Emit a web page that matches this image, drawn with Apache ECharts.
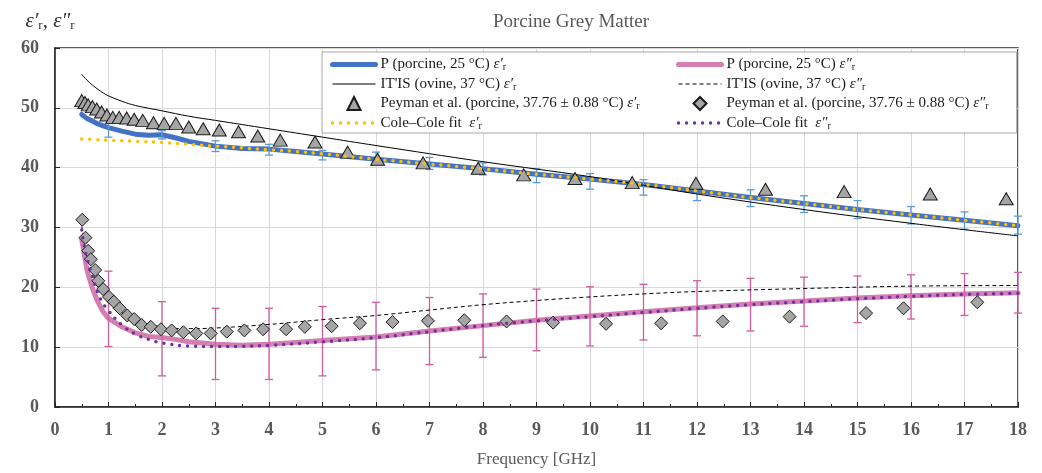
<!DOCTYPE html>
<html>
<head>
    <meta charset="utf-8">
    <style>
        body{
            margin: 0;
            background: #fff;
        }
        #chart-container{
            width: 1042px;
            height: 473px;
        }
    </style>
</head>
<body>
    <div id="chart-container"></div>

    <script type="text/javascript" src="https://cdn.jsdelivr.net/npm/echarts@6.0.0/dist/echarts.min.js"></script>
    <script type="text/javascript">
        // measured, porcine 25 C
        var pFreq = [0.5,0.6,0.7,0.8,0.9,1,1.25,1.5,1.75,2,2.25,2.5,3,3.5,4,4.5,5,6,7,8,9,10,11,12,13,14,15,16,17,18];
        var pReal = [48.9,48.2,47.8,47.3,47.0,46.7,46.1,45.6,45.4,45.5,45.0,44.4,43.6,43.2,43.1,42.7,42.3,41.4,40.6,39.8,38.9,38.1,37.2,36.1,35.0,34.0,33.0,32.1,31.2,30.3];
        var pImag = [28.0,22.8,19.8,17.6,15.9,14.8,13.4,12.4,11.8,11.6,11.3,10.9,10.5,10.3,10.5,10.8,11.1,11.7,12.7,13.6,14.5,15.2,15.9,16.6,17.2,17.7,18.2,18.6,18.9,19.1];

        // error bars (min / max) at whole GHz
        var errFreq = [1,2,3,4,5,6,7,8,9,10,11,12,13,14,15,16,17,18];
        var realLow  = [45.1,44.8,42.7,42.1,41.3,40.8,39.7,38.8,37.5,36.4,35.4,34.5,33.5,32.5,31.5,30.6,29.7,28.9];
        var realHigh = [47.4,46.2,44.5,43.9,42.9,42.6,41.7,40.8,39.8,39.0,38.0,37.1,36.3,35.3,34.5,33.5,32.6,31.9];
        var imagLow  = [10.1,5.2,4.6,4.6,5.2,6.2,7.1,8.3,9.4,10.2,11.2,11.9,12.7,13.5,14.1,14.7,15.3,15.7];
        var imagHigh = [22.7,17.6,16.5,16.5,16.8,17.5,18.3,18.9,19.7,20.1,20.5,21.1,21.5,21.7,21.9,22.1,22.3,22.5];

        // IT'IS ovine 37 C
        var itisFreq = [0.5,0.6,0.7,0.8,0.9,1,1.25,1.5,2,2.5,3,4,5,6,8,10,12,14,16,18];
        var itisReal = [55.6,54.6,53.8,53.1,52.5,52.0,51.1,50.4,49.5,48.6,47.9,46.5,45.1,43.7,41.0,38.5,35.6,33.0,30.7,28.6];
        var itisImagFreq = [0.5,0.6,0.7,0.8,1,1.25,1.5,2,2.5,3,4,5,6,7,8,9,10,11,12,14,16,18];
        var itisImag = [30.2,25.7,22.6,20.4,17.7,15.8,14.5,13.4,13.1,13.2,13.8,14.6,15.3,16.2,17.1,17.8,18.4,18.9,19.3,19.8,20.2,20.3];

        // Peyman et al.
        var peyRealFreq = [0.50,0.56,0.62,0.70,0.78,0.87,0.97,1.08,1.20,1.34,1.48,1.64,1.84,2.04,2.26,2.50,2.77,3.07,3.43,3.79,4.21,4.86,5.47,6.03,6.88,7.91,8.76,9.72,10.79,11.98,13.28,14.75,16.36,17.78];
        var peyReal = [51.2,50.9,50.5,50.2,49.8,49.3,48.8,48.4,48.4,48.3,48.1,47.9,47.5,47.4,47.4,46.8,46.5,46.3,46.0,45.3,44.6,44.3,42.6,41.4,40.8,39.9,38.8,38.2,37.5,37.4,36.4,36.0,35.6,34.8];
        var peyImagFreq = [0.51,0.57,0.62,0.67,0.75,0.81,0.90,1.01,1.10,1.21,1.35,1.48,1.62,1.79,1.98,2.18,2.40,2.64,2.91,3.21,3.54,3.89,4.32,4.67,5.17,5.70,6.31,6.97,7.65,8.44,9.31,10.30,11.33,12.48,13.73,15.16,15.86,17.24];
        var peyImag = [31.3,28.3,26.1,24.7,22.9,21.1,19.7,18.4,17.6,16.5,15.3,14.7,13.7,13.4,13.0,12.8,12.5,12.3,12.3,12.6,12.8,13.0,13.0,13.4,13.5,14.0,14.2,14.4,14.5,14.3,14.1,13.9,14.0,14.3,15.1,15.7,16.5,17.5];

        // Cole-Cole fit
        var ccRealFreq = [0.5,0.75,1,1.5,2,2.5,3,3.5,4,4.5,5,6,7,8,9,10,11,12,13,14,15,16,17,18];
        var ccReal = [44.8,44.7,44.6,44.4,44.2,43.9,43.6,43.3,43.0,42.7,42.3,41.4,40.6,39.8,38.9,38.1,37.2,36.1,35.0,34.0,33.0,32.1,31.2,30.3];
        var ccImagFreq = [0.5,0.55,0.6,0.7,0.8,0.9,1,1.25,1.5,1.75,2,2.5,3,3.5,4,5,6,7,8,9,10,11,12,13,14,15,16,17,18];
        var ccImag = [29.6,26.8,24.8,21.8,19.1,17.3,16.1,13.7,12.2,11.3,10.7,10.2,10.1,10.15,10.3,10.9,11.6,12.6,13.6,14.4,15.1,15.8,16.5,17.1,17.6,18.1,18.5,18.8,19.0];

        var names = {
            pRe: 'P (porcine, 25 °C) ε′r',
            pIm: 'P (porcine, 25 °C) ε″r',
            itRe: 'IT\'IS (ovine, 37 °C) ε′r',
            itIm: 'IT\'IS (ovine, 37 °C) ε″r',
            pyRe: 'Peyman et al. (porcine, 37.76 ± 0.88 °C) ε′r',
            pyIm: 'Peyman et al. (porcine, 37.76 ± 0.88 °C) ε″r',
            ccRe: 'Cole–Cole fit  ε′r',
            ccIm: 'Cole–Cole fit  ε″r'
        };

        var triPath = 'path://M0,-1L1,1L-1,1Z';
        var diaPath = 'path://M0,-1L1,0L0,1L-1,0Z';

        function zip(xs, ys) {
            return xs.map(function (x, i) { return [x, ys[i]]; });
        }
        function zip3(xs, a, b) {
            return xs.map(function (x, i) { return [x, a[i], b[i]]; });
        }

        var serif = 'Liberation Serif';
        var richEps = {
            e: { fontStyle: 'italic', fontFamily: serif, fontSize: 15, color: '#1a1a1a' },
            s: { fontFamily: serif, fontSize: 10, color: '#1a1a1a', padding: [6, 0, 0, 0] }
        };

        function legendFmt(name) {
            return name.replace(/(ε[′″])r$/, '{e|$1}{s|r}');
        }
        // line items: hide the marker dot in the legend icon
        function lineItem(name) {
            return { name: name, itemStyle: { opacity: 0 } };
        }
        function markItem(name, path) {
            return { name: name, icon: path };
        }

        function errorBars(color) {
            return function (params, api) {
                var top = api.coord([api.value(0), api.value(2)]);
                var bot = api.coord([api.value(0), api.value(1)]);
                var w = 4;
                var style = { stroke: color, lineWidth: 1.3 };
                return {
                    type: 'group',
                    children: [
                        { type: 'line', shape: { x1: top[0], y1: top[1], x2: bot[0], y2: bot[1] }, style: style },
                        { type: 'line', shape: { x1: top[0] - w, y1: top[1], x2: top[0] + w, y2: top[1] }, style: style },
                        { type: 'line', shape: { x1: bot[0] - w, y1: bot[1], x2: bot[0] + w, y2: bot[1] }, style: style }
                    ]
                };
            };
        }

        var chartDom = document.getElementById('chart-container');
        var myChart = echarts.init(chartDom);

        var legendBase = {
            orient: 'vertical',
            itemGap: 4,
            itemWidth: 43,
            itemHeight: 13,
            symbolKeepAspect: true,
            lineStyle: { width: 'inherit' },
            formatter: legendFmt,
            textStyle: { fontFamily: serif, fontSize: 15, color: '#1a1a1a', rich: richEps }
        };

        var option = {
            animation: false,
            title: {
                text: 'Porcine Grey Matter',
                left: 566,
                textAlign: 'center',
                top: 8,
                textStyle: { fontFamily: serif, fontSize: 19, fontWeight: 'normal', color: '#595959' }
            },
            legend: [
                Object.assign({}, legendBase, {
                    left: 322,
                    top: 52,
                    padding: [5, 377, 2, 8],
                    backgroundColor: '#fff',
                    borderColor: '#a6a6a6',
                    borderWidth: 1,
                    data: [lineItem(names.pRe), lineItem(names.itRe), markItem(names.pyRe, triPath), lineItem(names.ccRe)]
                }),
                Object.assign({}, legendBase, {
                    left: 676,
                    top: 57,
                    padding: 0,
                    data: [lineItem(names.pIm), lineItem(names.itIm), markItem(names.pyIm, diaPath), lineItem(names.ccIm)]
                })
            ],
            grid: {
                left: 55, right: 24, top: 48, bottom: 66,
                show: true, borderColor: '#262626', borderWidth: 1.5,
                outerBoundsMode: 'none'
            },
            xAxis: {
                type: 'value',
                min: 0, max: 18, interval: 1,
                name: 'Frequency [GHz]',
                nameLocation: 'middle',
                nameGap: 44,
                nameTextStyle: { fontFamily: serif, fontSize: 17, color: '#595959' },
                axisLine: { lineStyle: { color: '#262626', width: 1.5 } },
                axisTick: { inside: true, length: 5, lineStyle: { color: '#262626' } },
                minorTick: { show: true, splitNumber: 2, length: 3, lineStyle: { color: '#262626' } },
                axisLabel: { margin: 14, fontFamily: serif, fontSize: 18, fontWeight: 'bold', color: '#595959' },
                splitLine: { lineStyle: { color: '#d9d9d9', width: 1 } }
            },
            yAxis: {
                type: 'value',
                min: 0, max: 60, interval: 10,
                name: '{e|ε′}{s|r}{n|, }{e|ε″}{s|r}',
                nameLocation: 'end',
                nameGap: 16,
                nameTextStyle: {
                    padding: [0, 10, 0, 0],
                    rich: {
                        e: { fontStyle: 'italic', fontFamily: serif, fontSize: 21, color: '#333' },
                        n: { fontFamily: serif, fontSize: 21, color: '#333' },
                        s: { fontFamily: serif, fontSize: 13, color: '#333', padding: [9, 0, 0, 0] }
                    }
                },
                axisLine: { show: true, lineStyle: { color: '#262626', width: 1.5 } },
                axisTick: { show: true, inside: true, length: 5, lineStyle: { color: '#262626' } },
                axisLabel: { margin: 16, fontFamily: serif, fontSize: 18, fontWeight: 'bold', color: '#595959' },
                splitLine: { lineStyle: { color: '#d9d9d9', width: 1 } }
            },
            series: [
                {
                    name: names.pRe, type: 'line', z: 2,
                    data: zip(pFreq, pReal),
                    showSymbol: false, symbol: 'none',
                    lineStyle: { color: '#4472c4', width: 5, cap: 'round', join: 'round' },
                    itemStyle: { color: '#4472c4' }
                },
                {
                    name: names.pIm, type: 'line', z: 2,
                    data: zip(pFreq, pImag),
                    showSymbol: false, symbol: 'none',
                    lineStyle: { color: '#d47fb2', width: 5, cap: 'round', join: 'round' },
                    itemStyle: { color: '#d47fb2' }
                },
                {
                    type: 'custom', z: 3,
                    data: zip3(errFreq, realLow, realHigh),
                    encode: { x: 0, y: [1, 2] },
                    renderItem: errorBars('#5b9bd5')
                },
                {
                    type: 'custom', z: 3,
                    data: zip3(errFreq, imagLow, imagHigh),
                    encode: { x: 0, y: [1, 2] },
                    renderItem: errorBars('#d35c9c')
                },
                {
                    name: names.itRe, type: 'line', z: 4,
                    data: zip(itisFreq, itisReal),
                    smooth: 0.4, showSymbol: false, symbol: 'none',
                    lineStyle: { color: '#000', width: 1 },
                    itemStyle: { color: '#000' }
                },
                {
                    name: names.itIm, type: 'line', z: 4,
                    data: zip(itisImagFreq, itisImag),
                    smooth: 0.4, showSymbol: false, symbol: 'none',
                    lineStyle: { color: '#000', width: 1, type: [4, 3] },
                    itemStyle: { color: '#000' }
                },
                {
                    name: names.pyRe, type: 'scatter', z: 5,
                    data: zip(peyRealFreq, peyReal),
                    symbol: triPath, symbolSize: [14, 12], symbolKeepAspect: false,
                    itemStyle: { color: '#a5a5a5', borderColor: '#1a1a1a', borderWidth: 1, opacity: 1 }
                },
                {
                    name: names.pyIm, type: 'scatter', z: 5,
                    data: zip(peyImagFreq, peyImag),
                    symbol: diaPath, symbolSize: [13, 13], symbolKeepAspect: false,
                    itemStyle: { color: '#a5a5a5', borderColor: '#1a1a1a', borderWidth: 1, opacity: 1 }
                },
                {
                    name: names.ccRe, type: 'line', z: 6,
                    data: zip(ccRealFreq, ccReal),
                    smooth: true, showSymbol: false, symbol: 'none',
                    lineStyle: { color: '#ffc000', width: 3.5, type: [0, 8], cap: 'round' },
                    itemStyle: { color: '#ffc000' }
                },
                {
                    name: names.ccIm, type: 'line', z: 6,
                    data: zip(ccImagFreq, ccImag),
                    smooth: true, showSymbol: false, symbol: 'none',
                    lineStyle: { color: '#7030a0', width: 3.5, type: [0, 8], cap: 'round' },
                    itemStyle: { color: '#7030a0' }
                }
            ]
        };
        myChart.setOption(option);
    </script>
</body>
</html>
